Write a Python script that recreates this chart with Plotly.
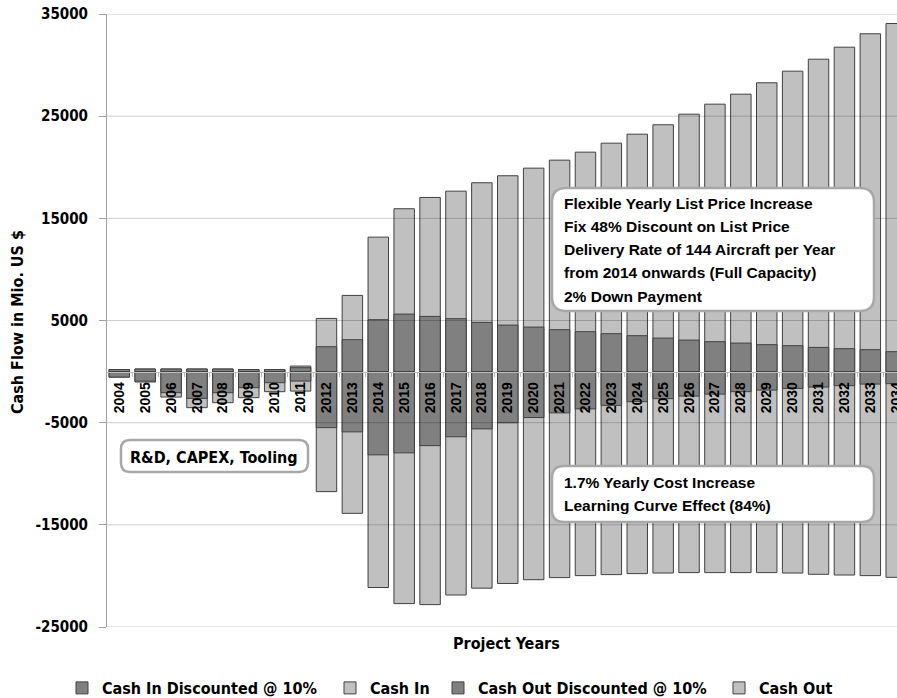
import plotly.graph_objects as go

# ---------------- data ----------------
years = [str(y) for y in range(2004, 2035)]
cash_in = [200, 250, 250, 250, 250, 200, 200, 540, 5205, 7456, 13160, 15939, 17045, 17661,
           18483, 19168, 19912, 20695, 21477, 22358, 23239, 24159, 25196, 26174, 27153,
           28268, 29404, 30577, 31751, 33063, 34070]
cash_in_disc = [200, 250, 250, 250, 250, 200, 200, 380, 2436, 3121, 5078, 5626, 5401, 5176,
                4814, 4550, 4354, 4100, 3904, 3708, 3513, 3278, 3082, 2926, 2789, 2632,
                2534, 2368, 2241, 2143, 1947]
cash_out = [-540, -1020, -2495, -3532, -3043, -2554, -1967, -1908, -11751, -13875, -21135,
            -22710, -22808, -21869, -21200, -20740, -20370, -20166, -19971, -19873, -19775,
            -19716, -19677, -19677, -19677, -19677, -19716, -19843, -19912, -19971, -20137]
cash_out_disc = [-540, -930, -2065, -2622, -2065, -1575, -1086, -930, -5489, -5900, -8150,
                 -7955, -7250, -6380, -5610, -5010, -4500, -4040, -3650, -3307, -2945, -2652,
                 -2397, -2202, -1967, -1810, -1644, -1517, -1380, -1223, -1184]
y_ticks = [-25000, -15000, -5000, 5000, 15000, 25000, 35000]
y_tick_labels = ["-25000", "-15000", "-5000", "5000", "15000", "25000", "35000"]

box_price = ["Flexible Yearly List Price Increase",
             "Fix 48% Discount on List Price",
             "Delivery Rate of 144 Aircraft per Year",
             "from 2014 onwards (Full Capacity)",
             "2% Down Payment"]
box_cost = ["1.7% Yearly Cost Increase", "Learning Curve Effect (84%)"]
box_rd = "R&D, CAPEX, Tooling"

# ---------------- layout geometry ----------------
W, H = 897, 698
ML, MR, MT, MB = 107, 0, 14, 71
PW, PH = W - ML - MR, H - MT - MB

def px(x):
    return (x - ML) / PW

def py(y):
    return (H - MB - y) / PH

TAHOMA = "DejaVu Sans Condensed, DejaVu Sans, sans-serif"
ARIAL = "Liberation Sans, Arial, sans-serif"
LIGHT = "#C0C0C0"
DARK = "#808080"
EDGE = "#404040"
LEGEND_FONT = dict(family=TAHOMA, size=16, color="black", weight="bold")

fig = go.Figure()
# (name, values, colour, legend id, legend left edge in px)
series = [
    ("Cash In", cash_in, LIGHT, "legend2", 330),
    ("Cash Out", cash_out, LIGHT, "legend4", 719),
    ("Cash In Discounted @ 10%", cash_in_disc, DARK, "legend", 62),
    ("Cash Out Discounted @ 10%", cash_out_disc, DARK, "legend3", 438),
]
legend_layouts = {}
for name, vals, col, leg, lx in series:
    fig.add_trace(go.Bar(
        x=years, y=vals, name=name, width=0.79,
        marker=dict(color=col, line=dict(color=EDGE, width=1)),
        legend=leg,
    ))
    legend_layouts[leg] = dict(orientation="h", x=px(lx), xanchor="left", y=py(688),
                               yanchor="middle", font=LEGEND_FONT, itemclick=False,
                               itemdoubleclick=False, bgcolor="rgba(0,0,0,0)", borderwidth=0)

zero_pos = (0 - y_ticks[0]) / (y_ticks[-1] - y_ticks[0])

shapes = []
for v in y_ticks:
    shapes.append(dict(type="line", xref="paper", yref="y", x0=0, x1=1, y0=v, y1=v,
                       line=dict(color="rgba(0,0,0,0.2)", width=1), layer="above"))

def rrect(x0p, y0p, x1p, y1p, r):
    x0, x1 = px(x0p), px(x1p)
    yt, yb = py(y0p), py(y1p)
    rx, ry = r / PW, r / PH
    return (f"M{x0+rx},{yt} L{x1-rx},{yt} Q{x1},{yt} {x1},{yt-ry} "
            f"L{x1},{yb+ry} Q{x1},{yb} {x1-rx},{yb} L{x0+rx},{yb} "
            f"Q{x0},{yb} {x0},{yb+ry} L{x0},{yt-ry} Q{x0},{yt} {x0+rx},{yt} Z")

for (a, b, c, d, r) in [(552, 188, 874, 311, 14), (552, 466, 874, 522, 12), (121, 440, 308, 472, 9)]:
    shapes.append(dict(type="path", xref="paper", yref="paper", path=rrect(a, b, c, d, r),
                       fillcolor="white", line=dict(color="#A8A8A8", width=2.5), layer="above"))

annotations = []
for i, t in enumerate(box_price):
    annotations.append(dict(text=t, xref="paper", yref="paper", x=px(562), y=py(203 + 23.3 * i),
                            xanchor="left", yanchor="middle", showarrow=False,
                            font=dict(family=ARIAL, size=15.5, color="black", weight="bold")))
for i, t in enumerate(box_cost):
    annotations.append(dict(text=t, xref="paper", yref="paper", x=px(562), y=py(482 + 23.3 * i),
                            xanchor="left", yanchor="middle", showarrow=False,
                            font=dict(family=ARIAL, size=15.5, color="black", weight="bold")))
annotations.append(dict(text=box_rd, xref="paper", yref="paper", x=px(214), y=py(457),
                        xanchor="center", yanchor="middle", showarrow=False,
                        font=dict(family=TAHOMA, size=16, color="black", weight="bold")))
annotations.append(dict(text="Project Years", xref="paper", yref="paper", x=px(506), y=py(643),
                        xanchor="center", yanchor="middle", showarrow=False,
                        font=dict(family=TAHOMA, size=16, color="black", weight="bold")))
annotations.append(dict(text="Cash Flow in Mio. US $", xref="paper", yref="paper", x=px(17), y=py(322),
                        xanchor="center", yanchor="middle", showarrow=False, textangle=-90,
                        font=dict(family=TAHOMA, size=16, color="black", weight="bold")))

fig.update_layout(
    width=W, height=H,
    margin=dict(l=ML, r=MR, t=MT, b=MB, pad=0, autoexpand=False),
    barmode="overlay",
    paper_bgcolor="white", plot_bgcolor="white",
    showlegend=True,
    xaxis=dict(type="category", range=[-0.475, 30.03], anchor="free", position=zero_pos,
               showgrid=False, showline=True, linecolor="#BEBEBE", linewidth=1,
               ticks="outside", ticklen=4, tickcolor="#BEBEBE", tickson="boundaries",
               tickangle=-90, ticklabelstandoff=4, automargin=False,
               tickfont=dict(family=ARIAL, size=14, color="black", weight="bold"),
               layer="above traces", fixedrange=True),
    yaxis=dict(range=[y_ticks[0], y_ticks[-1]], tickvals=y_ticks, ticktext=y_tick_labels,
               showgrid=False, zeroline=False, showline=True, linecolor="#A0A0A0", linewidth=1,
               ticks="outside", ticklen=7, tickcolor="#A0A0A0", ticklabelstandoff=8,
               automargin=False,
               tickfont=dict(family=TAHOMA, size=15, color="black", weight="bold"),
               fixedrange=True),
    shapes=shapes,
    annotations=annotations,
    **legend_layouts,
)

fig.write_html("out.html", config={"displayModeBar": False},
               post_script="document.body.style.margin='0px';document.body.style.overflow='hidden';")
